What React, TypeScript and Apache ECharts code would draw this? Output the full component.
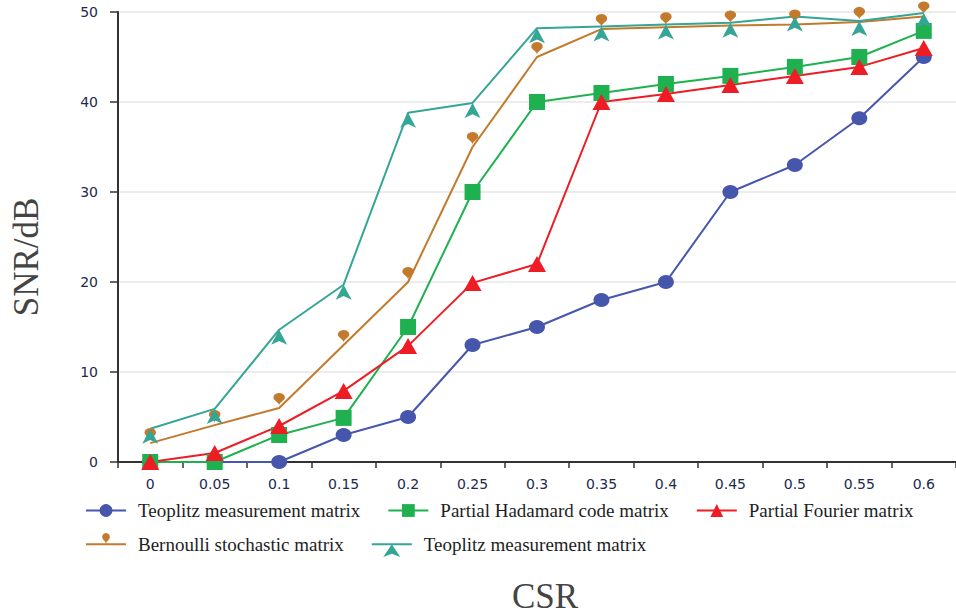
import React, { useEffect, useRef } from "react";
import * as echarts from "echarts";

const categories = ["0", "0.05", "0.1", "0.15", "0.2", "0.25", "0.3", "0.35", "0.4", "0.45", "0.5", "0.55", "0.6"];
const teoplitzA = [0, 0, 0, 3, 5, 13, 15, 18, 20, 30, 33, 38.2, 45];
const hadamard = [0, 0, 3, 4.9, 15, 30, 40, 41, 42, 42.9, 43.9, 45, 47.9];
const fourier = [0, 1, 4, 7.9, 12.9, 19.9, 22, 40, 40.9, 41.9, 42.9, 43.9, 46];
const bernoulli = [2.1, 4.1, 6, 13, 20, 35, 45, 48.1, 48.3, 48.5, 48.6, 48.9, 49.5];
const teoplitzB = [3.7, 5.9, 14.7, 19.7, 38.8, 39.9, 48.2, 48.4, 48.6, 48.8, 49.5, 49.0, 49.9];
const yTicks = [0, 10, 20, 30, 40, 50];

const LABEL_B = "Teoplitz measurement matrix ";
const serif = "'Liberation Serif', 'DejaVu Serif', serif";
const sans = "'DejaVu Sans', Verdana, sans-serif";

export default function App() {
  const ref = useRef<HTMLDivElement>(null);
  useEffect(() => {
    if (!ref.current) return;
    const chart = echarts.init(ref.current, undefined, { renderer: "svg" });
    const fmt = (n: string) => (n === LABEL_B ? "Teoplitz measurement matrix" : n);
    const legendText = { fontFamily: serif, fontSize: 19, color: "#1e1e1e", padding: [0, 0, 0, 7] };
    chart.setOption({
      animation: false,
      backgroundColor: "#fff",
      grid: { left: 118, top: 12, width: 839, height: 450 },
      xAxis: {
        type: "category",
        data: categories,
        boundaryGap: true,
        axisLine: { lineStyle: { color: "#333", width: 2 } },
        axisTick: { show: true, alignWithLabel: false, length: 6, lineStyle: { color: "#333", width: 1.5 } },
        axisLabel: { fontFamily: sans, fontSize: 14, color: "#1c2a4e", margin: 15 },
        splitLine: { show: false },
      },
      yAxis: {
        type: "value",
        min: yTicks[0],
        max: yTicks[yTicks.length - 1],
        interval: 10,
        axisLine: { show: true, lineStyle: { color: "#333", width: 2 } },
        axisTick: { show: true, length: 8, lineStyle: { color: "#333", width: 1.5 } },
        axisLabel: { fontFamily: sans, fontSize: 14, color: "#1c2a4e", margin: 20 },
        splitLine: { show: true, lineStyle: { color: "#e6e6e6", width: 1.5 } },
      },
      graphic: [
        {
          type: "text",
          x: 26,
          y: 257,
          rotation: Math.PI / 2,
          style: {
            text: "SNR/dB",
            fontFamily: serif,
            fontSize: 35,
            fill: "#444",
            align: "center",
            verticalAlign: "middle",
          },
        },
        {
          type: "text",
          x: 545,
          y: 596,
          style: {
            text: "CSR",
            fontFamily: serif,
            fontSize: 35,
            fill: "#444",
            align: "center",
            verticalAlign: "middle",
          },
        },
      ],
      legend: [
        {
          left: 85,
          top: 501,
          padding: 0,
          itemWidth: 40,
          itemHeight: 16,
          itemGap: 27,
          textStyle: legendText,
          formatter: fmt,
          data: ["Teoplitz measurement matrix", "Partial Hadamard code matrix", "Partial Fourier matrix"],
        },
        {
          left: 85,
          top: 533,
          padding: 0,
          itemWidth: 40,
          itemHeight: 16,
          itemGap: 27,
          textStyle: legendText,
          formatter: fmt,
          data: ["Bernoulli stochastic matrix", LABEL_B],
        },
      ],
      series: [
        {
          name: "Teoplitz measurement matrix",
          type: "line",
          data: teoplitzA,
          color: "#4756ad",
          symbol: "circle",
          symbolSize: [16, 14],
          lineStyle: { width: 2 },
        },
        {
          name: "Partial Hadamard code matrix",
          type: "line",
          data: hadamard,
          color: "#1fb14f",
          symbol: "rect",
          symbolSize: 16,
          lineStyle: { width: 2 },
        },
        {
          name: "Partial Fourier matrix",
          type: "line",
          data: fourier,
          color: "#ee1c25",
          symbol: "triangle",
          symbolSize: [18, 16],
          lineStyle: { width: 2 },
        },
        {
          name: "Bernoulli stochastic matrix",
          type: "line",
          data: bernoulli,
          color: "#c27a2c",
          symbol: "pin",
          symbolSize: [19, 15],
          symbolOffset: [0, -2],
          lineStyle: { width: 2 },
        },
        {
          name: LABEL_B,
          type: "line",
          data: teoplitzB,
          color: "#35a596",
          symbol: "arrow",
          symbolSize: [12, 15],
          lineStyle: { width: 2 },
        },
      ],
    });
    return () => chart.dispose();
  }, []);
  return <div ref={ref} style={{ position: "fixed", left: 0, top: 0, width: 956, height: 615 }} />;
}
